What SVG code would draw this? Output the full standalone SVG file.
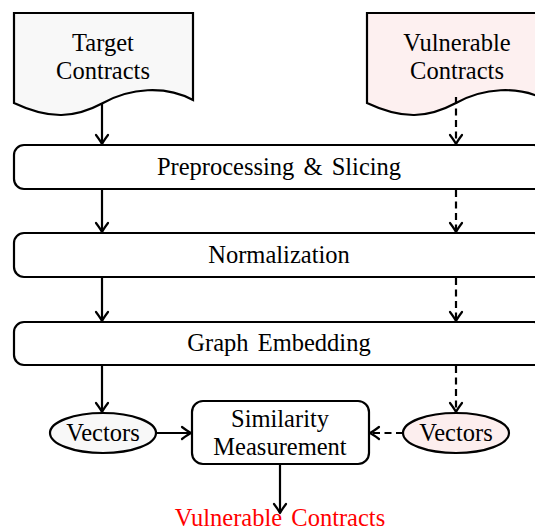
<svg xmlns="http://www.w3.org/2000/svg" width="535" height="530" viewBox="0 0 535 530">
  <defs>
    <style>
      .shape { stroke: #000; stroke-width: 2.2; }
      .box { fill: #fff; }
      .doc-target { fill: #f8f8f8; }
      .doc-vuln { fill: #fdf0f0; }
      .vec-target { fill: #f8f8f8; }
      .vec-vuln { fill: #fceeee; }
      text { font-family: "Liberation Serif", "Times New Roman", serif; font-size: 24.5px; fill: #000; text-anchor: middle; }
      .result { fill: #ff0000; }
      .edge { fill: none; stroke: #000; stroke-width: 2.2; }
      .dashed { stroke-dasharray: 7 4.5; }
    </style>
    <marker id="tip" viewBox="-11 -8 13 16" refX="0" refY="0" markerWidth="13" markerHeight="16" markerUnits="userSpaceOnUse" orient="auto">
      <path d="M-9,-6 Q-3,-1.5 0,0 Q-3,1.5 -9,6" fill="none" stroke="#000" stroke-width="2.2" stroke-linecap="round" stroke-linejoin="round"/>
    </marker>
    <path id="docShape" d="M14,13 H193 V100 C165,85 130,88 103,103 C75,118 50,120 14,103 Z"/>
  </defs>

  <!-- source documents -->
  <g id="target-contracts">
    <use href="#docShape" class="shape doc-target"/>
    <text x="103" y="51">Target</text>
    <text x="103" y="79">Contracts</text>
  </g>
  <g id="vulnerable-contracts">
    <use href="#docShape" class="shape doc-vuln" transform="translate(353,0)"/>
    <text x="457" y="51">Vulnerable</text>
    <text x="457" y="79">Contracts</text>
  </g>

  <!-- processing stages -->
  <g id="preprocessing">
    <rect x="14" y="145" width="530" height="44" rx="10" class="shape box"/>
    <text x="279" y="175" word-spacing="3">Preprocessing &amp; Slicing</text>
  </g>
  <g id="normalization">
    <rect x="14" y="233" width="530" height="44" rx="10" class="shape box"/>
    <text x="279" y="263">Normalization</text>
  </g>
  <g id="graph-embedding">
    <rect x="14" y="322" width="530" height="43" rx="10" class="shape box"/>
    <text x="279" y="351" word-spacing="3">Graph Embedding</text>
  </g>

  <!-- embeddings and comparison -->
  <g id="vectors-target">
    <ellipse cx="103" cy="433" rx="53" ry="20" class="shape vec-target"/>
    <text x="103" y="441">Vectors</text>
  </g>
  <g id="vectors-vuln">
    <ellipse cx="456" cy="433" rx="53" ry="20" class="shape vec-vuln"/>
    <text x="456" y="441">Vectors</text>
  </g>
  <g id="similarity">
    <rect x="192" y="401" width="177" height="63" rx="11" class="shape box"/>
    <text x="280" y="427">Similarity</text>
    <text x="280" y="455">Measurement</text>
  </g>
  <g id="result">
    <text x="280" y="526" class="result" word-spacing="3">Vulnerable Contracts</text>
  </g>

  <!-- connectors -->
  <g id="connectors">
    <path class="edge" d="M102,104 V144" marker-end="url(#tip)"/>
    <path class="edge" d="M102,190 V232" marker-end="url(#tip)"/>
    <path class="edge" d="M102,278 V321" marker-end="url(#tip)"/>
    <path class="edge" d="M102,366 V412" marker-end="url(#tip)"/>
    <path class="edge dashed" d="M456,97 V144" marker-end="url(#tip)"/>
    <path class="edge dashed" d="M456,190 V232" marker-end="url(#tip)"/>
    <path class="edge dashed" d="M456,278 V321" marker-end="url(#tip)"/>
    <path class="edge dashed" d="M456,366 V412" marker-end="url(#tip)"/>
    <path class="edge" d="M156,433 H191" marker-end="url(#tip)"/>
    <path class="edge dashed" d="M403,433 H370" marker-end="url(#tip)"/>
    <path class="edge" d="M280,465 V513" marker-end="url(#tip)"/>
  </g>
</svg>
